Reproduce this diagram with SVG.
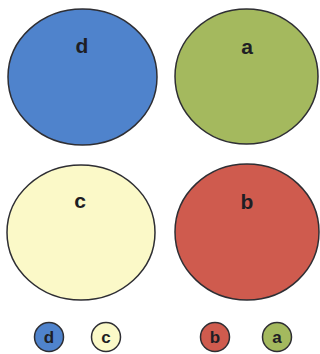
<svg xmlns="http://www.w3.org/2000/svg" width="320" height="354" viewBox="0 0 320 354">
<style>
.c{stroke:#2e2e33;stroke-width:1.5}
.t{font-family:"Liberation Sans",Arial,sans-serif;font-weight:bold;font-size:21px;fill:#1e1e24;text-anchor:middle}
.s{font-family:"Liberation Sans",Arial,sans-serif;font-weight:bold;font-size:17px;fill:#1e1e24;text-anchor:middle}
.blue{fill:#4f83cc}.green{fill:#a4b95e}.yellow{fill:#fbf9c8}.red{fill:#cf5b4e}
</style>
<rect width="320" height="354" fill="#ffffff"/>
<g id="node-d"><ellipse class="c blue" cx="82.5" cy="77" rx="74.5" ry="68"/><text class="t" x="82" y="53">d</text></g>
<g id="node-a"><ellipse class="c green" cx="246.5" cy="76.5" rx="71.5" ry="67.5"/><text class="t" x="247" y="54">a</text></g>
<g id="node-c"><ellipse class="c yellow" cx="81" cy="232.5" rx="74" ry="67.5"/><text class="t" x="80" y="208">c</text></g>
<g id="node-b"><ellipse class="c red" cx="247" cy="232" rx="72" ry="68"/><text class="t" x="247" y="209">b</text></g>
<g id="legend-d"><circle class="c blue" cx="49" cy="337" r="14.5"/><text class="s" x="49" y="343">d</text></g>
<g id="legend-c"><circle class="c yellow" cx="106" cy="337" r="14.5"/><text class="s" x="106" y="343">c</text></g>
<g id="legend-b"><circle class="c red" cx="215" cy="337" r="14.5"/><text class="s" x="215" y="343">b</text></g>
<g id="legend-a"><circle class="c green" cx="277" cy="337" r="14.5"/><text class="s" x="277" y="343">a</text></g>
<g id="connectors"/>
</svg>
